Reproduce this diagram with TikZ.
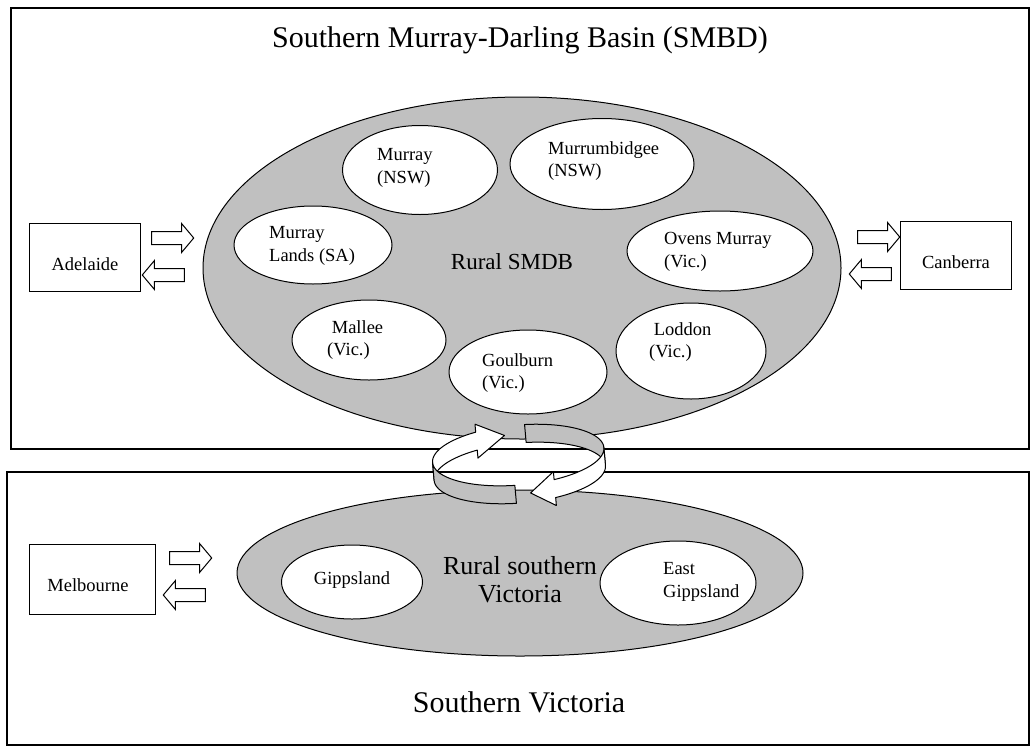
\documentclass[tikz,border=0pt]{standalone}
\usepackage{fontspec}
\setmainfont{Liberation Serif}
\usepackage{tikz}
\usetikzlibrary{positioning,shapes.geometric,shapes.arrows}
\definecolor{basingrey}{RGB}{192,192,192}
\tikzset{
  frame/.style={draw=black,line width=1.3pt},
  region/.style={ellipse,draw=black,line width=1pt,fill=basingrey,inner sep=0pt},
  district/.style={ellipse,draw=black,line width=1pt,fill=white,inner sep=0pt},
  distname/.style={inner sep=0pt,align=left,font=\fontsize{18.5}{22.5}\selectfont},
  city/.style={rectangle,draw=black,line width=1pt,fill=white,minimum width=111pt,minimum height=68pt},
  cityname/.style={inner sep=0pt,font=\fontsize{18.5}{22}\selectfont},
  flow/.style={single arrow,draw=black,line width=1pt,fill=white,minimum height=42pt,inner sep=6pt,
    single arrow head extend=8pt,single arrow tip angle=100},
  ring/.style={draw=black,line width=1pt,line join=round},
  bigname/.style={inner sep=0pt,align=center,font=\fontsize{30}{34}\selectfont}
}

\begin{document}
\begin{tikzpicture}[x=1pt,y=-1pt]
  \useasboundingbox (0,0) rectangle (1032,747);
  % the two areas
  \draw[frame] (11,8) rectangle (1029,449);
  \draw[frame] (7,472) rectangle (1029,745);
  \node[bigname] (smbd) at (520,40) {Southern Murray-Darling Basin (SMBD)};
  \node[bigname] (southvic) at (519,702) {Southern Victoria};

  % rural SMDB and its districts
  \node[region,minimum width=638pt,minimum height=342pt] (rural) at (522,268) {};
  \node[bigname,font=\fontsize{23}{25}\selectfont] (ruraltext) at (512,262) {Rural SMDB};
  \node[district,minimum width=155pt,minimum height=89pt] (murray) at (420,170) {};
  \node[distname,anchor=west] (murraytext) at (377,168) {Murray\\(NSW)};
  \node[district,minimum width=184pt,minimum height=91pt] (murrumbidgee) at (602,164) {};
  \node[distname,anchor=west] (murrumbidgeetext) at (548,161) {Murrumbidgee\\(NSW)};
  \node[district,minimum width=158pt,minimum height=78pt] (lands) at (313,245) {};
  \node[distname,anchor=west] (landstext) at (269,246) {Murray\\Lands (SA)};
  \node[district,minimum width=186pt,minimum height=80pt] (ovens) at (720,251) {};
  \node[distname,anchor=west] (ovenstext) at (664,252) {Ovens Murray\\(Vic.)};
  \node[district,minimum width=154pt,minimum height=80pt] (mallee) at (369,340) {};
  \node[distname,anchor=west] (malleetext) at (327,340) {\ Mallee\\(Vic.)};
  \node[district,minimum width=158pt,minimum height=84pt] (goulburn) at (528,372) {};
  \node[distname,anchor=west] (goulburntext) at (482,373) {Goulburn\\(Vic.)};
  \node[district,minimum width=150pt,minimum height=96pt] (loddon) at (691,351) {};
  \node[distname,anchor=west] (loddontext) at (649,342) {\ Loddon\\(Vic.)};

  % rural southern Victoria
  \node[region,minimum width=566pt,minimum height=166pt] (ruralvic) at (520,573) {};
  \node[bigname,font=\fontsize{26}{28}\selectfont] (ruralvictext) at (520,580) {Rural southern\\Victoria};
  \node[district,minimum width=141pt,minimum height=74pt] (gipps) at (352,582) {};
  \node[distname] (gippstext) at (352,580) {Gippsland};
  \node[district,minimum width=156pt,minimum height=84pt] (eastgipps) at (678,583) {};
  \node[distname,anchor=west] (eastgippstext) at (663,582) {East\\Gippsland};

  % cities and flows
  \node[city] (adelaide) at (85,257) {};
  \node[cityname] (adelaidetext) at (85,264) {Adelaide};
  \node[city] (canberra) at (956,255) {};
  \node[cityname] (canberratext) at (956,262) {Canberra};
  \node[city,minimum width=126pt,minimum height=70pt] (melbourne) at (92,579) {};
  \node[cityname] (melbournetext) at (88,585) {Melbourne};
  \node[flow] (adeout) at (170,238) {};
  \node[flow,shape border rotate=180] (adein) at (166,275) {};
  \node[flow] (canout) at (876,237) {};
  \node[flow,shape border rotate=180] (canin) at (873,274) {};
  \node[flow] (melout) at (188,558) {};
  \node[flow,shape border rotate=180] (melin) at (187,595) {};

  % exchange ring between the two areas, back half first
  \begin{scope}[rotate around={5:(519,464)}]
  \filldraw[ring,fill=basingrey] plot[domain=84:0,samples=25] ({519+86*cos(\x)},{455-30*sin(\x)})
    -- plot[domain=0:84,samples=25] ({519+86*cos(\x)},{473-30*sin(\x)}) -- cycle;
  \filldraw[ring,fill=white] plot[domain=180:118,samples=25] ({519+86*cos(\x)},{455-30*sin(\x)})
    -- ++(0,-8) -- ({519+86*cos(98)},{464-30*sin(98)})
    -- ({519+86*cos(118)},{473-30*sin(118)+8})
    -- plot[domain=118:180,samples=25] ({519+86*cos(\x)},{473-30*sin(\x)}) -- cycle;
  \filldraw[ring,fill=basingrey] plot[domain=266:180,samples=25] ({519+86*cos(\x)},{455-30*sin(\x)})
    -- plot[domain=180:266,samples=25] ({519+86*cos(\x)},{473-30*sin(\x)}) -- cycle;
  \filldraw[ring,fill=white] plot[domain=360:293,samples=25] ({519+86*cos(\x)},{455-30*sin(\x)})
    -- ++(0,-8) -- ({519+86*cos(276)},{464-30*sin(276)})
    -- ({519+86*cos(293)},{473-30*sin(293)+8})
    -- plot[domain=293:360,samples=25] ({519+86*cos(\x)},{473-30*sin(\x)}) -- cycle;
  \end{scope}
\end{tikzpicture}
\end{document}
